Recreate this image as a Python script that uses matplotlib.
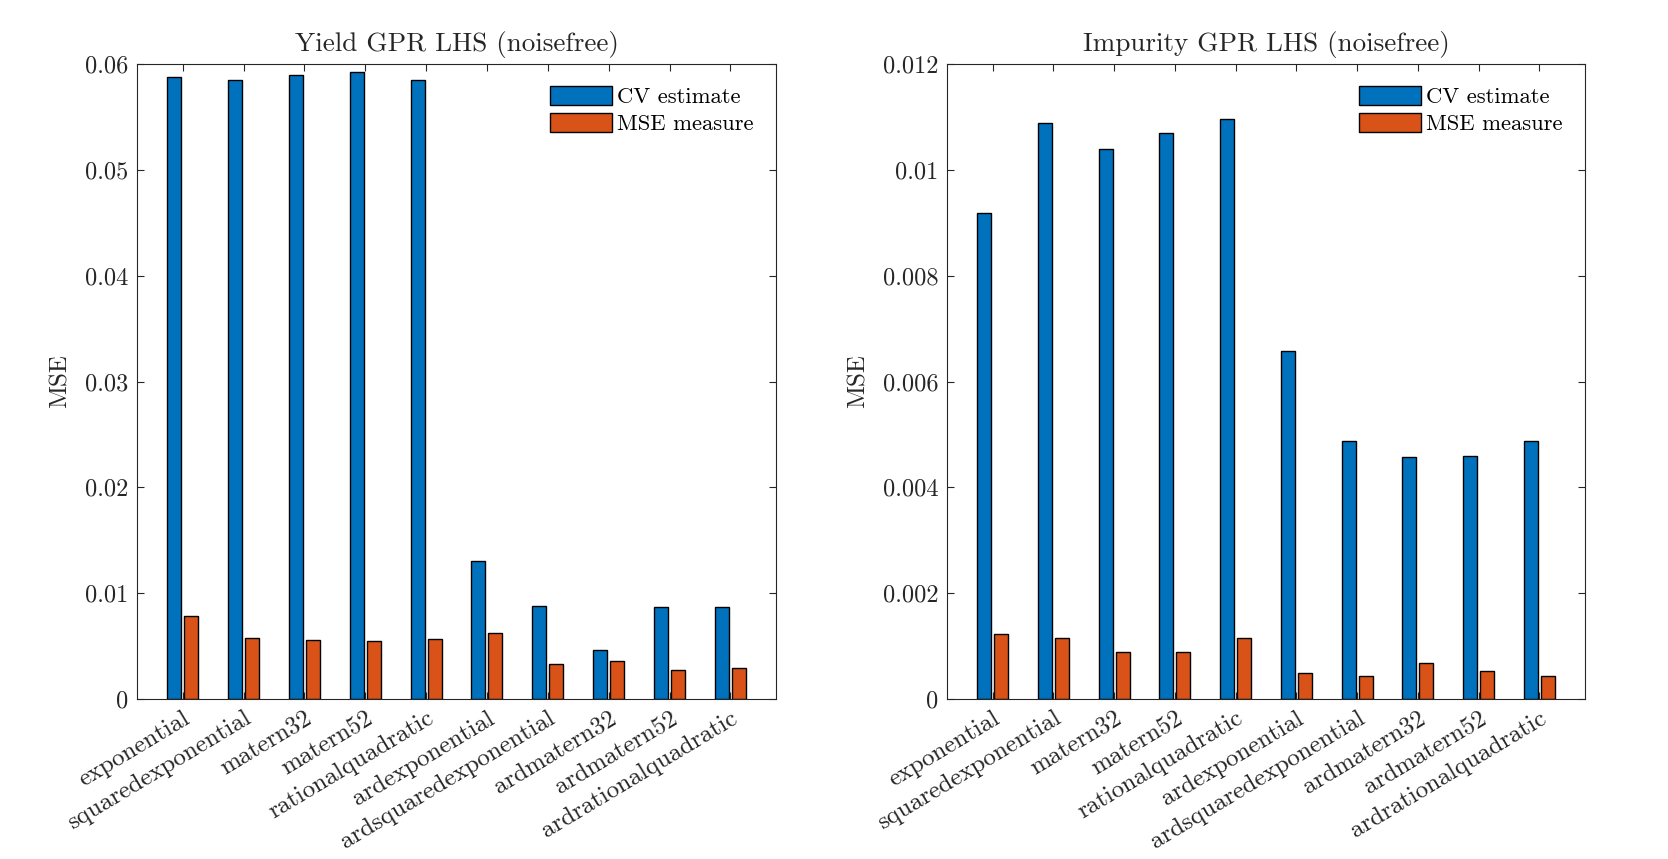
import numpy as np
import matplotlib
matplotlib.use('Agg')
import matplotlib.pyplot as plt

plt.rcParams['font.family'] = ['serif']
plt.rcParams['font.serif'] = ['cmr10', 'DejaVu Serif']
plt.rcParams['axes.unicode_minus'] = False

# --- data ---
kernels = ['exponential', 'squaredexponential', 'matern32', 'matern52',
           'rationalquadratic', 'ardexponential', 'ardsquaredexponential',
           'ardmatern32', 'ardmatern52', 'ardrationalquadratic']

yield_cv = [0.0588, 0.0585, 0.0590, 0.0592, 0.0585,
            0.0130, 0.0088, 0.0046, 0.0087, 0.0087]
yield_mse = [0.0078, 0.0058, 0.0056, 0.0055, 0.0057,
             0.0062, 0.0033, 0.0036, 0.0027, 0.0029]

impurity_cv = [0.00919, 0.01088, 0.01039, 0.01070, 0.01096,
               0.00658, 0.00488, 0.00458, 0.00460, 0.00488]
impurity_mse = [0.00123, 0.00116, 0.00089, 0.00089, 0.00116,
                0.00049, 0.00043, 0.00068, 0.00053, 0.00044]

yield_ticks = [0, 0.01, 0.02, 0.03, 0.04, 0.05, 0.06]
yield_ticklabels = ['0', '0.01', '0.02', '0.03', '0.04', '0.05', '0.06']
imp_ticks = [0, 0.002, 0.004, 0.006, 0.008, 0.010, 0.012]
imp_ticklabels = ['0', '0.002', '0.004', '0.006', '0.008', '0.01', '0.012']

BLUE = '#0072BD'
ORANGE = '#D95319'
FS = 17.5

W, H = 1668, 859
fig = plt.figure(figsize=(W / 100, H / 100), dpi=100)


def draw_panel(rect, cv, mse, ticks, ticklabels, title):
    ax = fig.add_axes(rect)
    x = np.arange(1, len(kernels) + 1)
    ax.bar(x - 0.14, cv, width=0.23, color=BLUE, edgecolor='black',
           linewidth=1.0, label='CV estimate')
    ax.bar(x + 0.14, mse, width=0.23, color=ORANGE, edgecolor='black',
           linewidth=1.0, label='MSE measure')
    ax.set_xlim(0.25, 10.75)
    ax.set_ylim(ticks[0], ticks[-1])
    ax.set_xticks(x)
    ax.set_xticklabels(kernels, rotation=31, ha='right', va='top',
                       rotation_mode='anchor', fontsize=18)
    ax.set_yticks(ticks)
    ax.set_yticklabels(ticklabels, fontsize=FS)
    ax.tick_params(direction='in', length=5, width=0.8, top=True, right=True,
                   color='#262626', labelcolor='#262626', pad=6)
    for s in ax.spines.values():
        s.set_linewidth(0.8)
        s.set_color('#262626')
    ax.set_ylabel('MSE', fontsize=FS + 0.5, color='#262626', labelpad=10)
    ax.set_title(title, fontsize=19.5, color='#262626', pad=9)
    ax.legend(loc='upper right', bbox_to_anchor=(0.99, 0.99), frameon=False,
              fontsize=16.3, handlelength=2.7, handleheight=0.9,
              handletextpad=0.25, labelspacing=0.25, borderaxespad=0.3)
    return ax


bottom = (H - 699) / H
height = 635 / H
draw_panel([137 / W, bottom, 639 / W, height], yield_cv, yield_mse,
           yield_ticks, yield_ticklabels, 'Yield GPR LHS (noisefree)')
draw_panel([947 / W, bottom, 638 / W, height], impurity_cv, impurity_mse,
           imp_ticks, imp_ticklabels, 'Impurity GPR LHS (noisefree)')

fig.savefig('out.png', dpi=100)
